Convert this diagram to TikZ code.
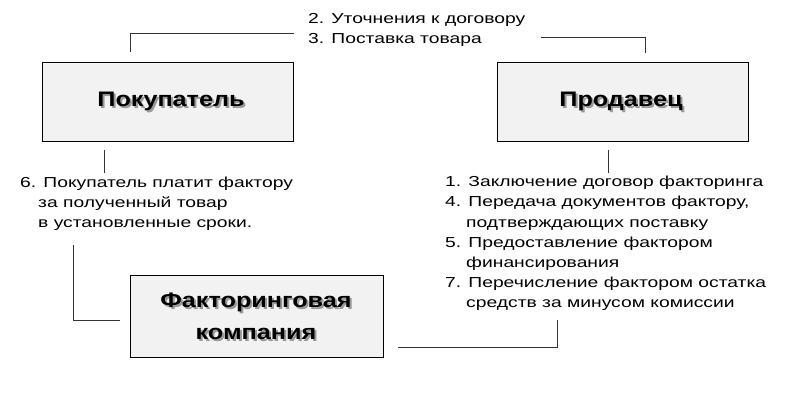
\documentclass[tikz,border=0pt]{standalone}
\usepackage{fontspec}
\setmainfont{Liberation Sans}
\newfontfamily\wide[FakeStretch=1.33]{Liberation Sans}
\newfontfamily\widebold[FakeStretch=1.2]{Liberation Sans Bold}
\usetikzlibrary{shadows}
\begin{document}
\begin{tikzpicture}[x=1pt,y=-1pt,
  box/.style={draw=black,line width=0.8pt,fill=black!5},
  ln/.style={draw=black!80,line width=0.7pt},
  lbl/.style={font=\wide\fontsize{14.5}{20}\selectfont,align=left,inner sep=0pt,anchor=north west},
  big/.style={font=\widebold\fontsize{21}{32}\selectfont,align=center}]
\useasboundingbox (0,0) rectangle (800,400);
\path[box] (42,62) rectangle (293,141);
\path[box] (497,62) rectangle (748,141);
\path[box] (130,275) rectangle (383,357);
\coordinate (bc) at (171,101); \coordinate (sc) at (621,101); \coordinate (fc) at (256,316);
\node[big,text=black!40] at ([shift={(2,2)}]bc) {Покупатель};
\node[big] (buyer) at (bc) {Покупатель};
\node[big,text=black!40] at ([shift={(2,2)}]sc) {Продавец};
\node[big] (seller) at (sc) {Продавец};
\node[big,text=black!40] at ([shift={(2,2)}]fc) {Факторинговая\\компания};
\node[big] (fact) at (fc) {Факторинговая\\компания};
\node[lbl] (t23) at (308,13) {2. Уточнения к договору\\3. Поставка товара};
\node[lbl] (t6) at (20,177) {6. Покупатель платит фактору\\\hspace*{18pt}за полученный товар\\\hspace*{18pt}в установленные сроки.};
\node[lbl,font=\wide\fontsize{14.5}{20.2}\selectfont] (t1) at (445,176) {1. Заключение договор факторинга\\4. Передача документов фактору,\\\hspace*{21pt}подтверждающих поставку\\5. Предоставление фактором\\\hspace*{21pt}финансирования\\7. Перечисление фактором остатка\\\hspace*{21pt}средств за минусом комиссии};
\draw[ln] (130,52) -- (130,33) -- (294,33);
\draw[ln] (541,37) -- (645,37) -- (645,53);
\draw[ln] (104,150) -- (104,173);
\draw[ln] (608,150) -- (608,173);
\draw[ln] (73,245) -- (73,320) -- (120,320);
\draw[ln] (398,347) -- (557,347) -- (557,320);
\end{tikzpicture}
\end{document}
